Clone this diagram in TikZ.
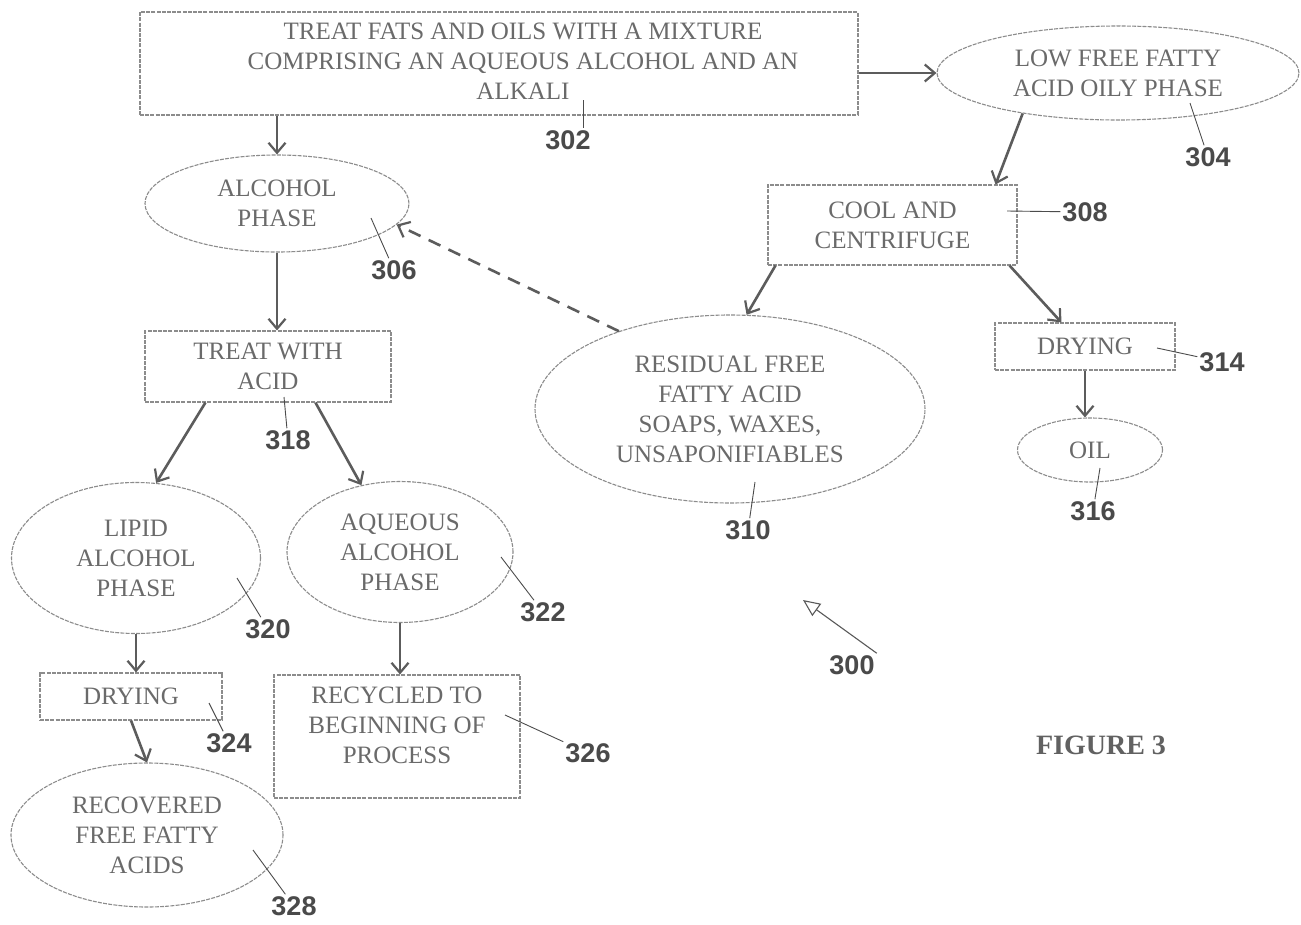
\documentclass[tikz,border=0pt]{standalone}
\usepackage{fontspec}
\setmainfont{Liberation Serif}
\newfontfamily\numfont{Liberation Sans}
\usetikzlibrary{shapes.geometric,arrows.meta,calc}
\definecolor{txtc}{HTML}{6A6A6A}
\definecolor{linec}{HTML}{8C8C8C}
\definecolor{arrc}{HTML}{5C5C5C}
\definecolor{numc}{HTML}{4A4A4A}
\begin{document}
\begin{tikzpicture}[x=1pt,y=-1pt,
  procbox/.style={rectangle,draw=linec,line width=1.1pt,dash pattern=on 4pt off 1.2pt,inner sep=0pt,
    font=\fontsize{25}{30}\selectfont,text=txtc,align=center},
  phase/.style={ellipse,draw=linec,line width=1.1pt,dash pattern=on 4pt off 1.2pt,inner sep=0pt,
    font=\fontsize{25}{30}\selectfont,text=txtc,align=center},
  flow/.style={draw=arrc,line width=2.6pt,-{Straight Barb[length=10pt,width=17pt,line width=2.2pt]}},
  back/.style={flow,dash pattern=on 13pt off 9pt},
  lead/.style={draw=black!70,line width=0.9pt},
  num/.style={font=\numfont\bfseries\fontsize{27}{29}\selectfont,text=numc,inner sep=2pt},
  pointer/.style={draw=black!65,line width=1.1pt,-{Triangle[open,length=17pt,width=15pt,line width=1.1pt]}}
]
\fill[white] (0,0) rectangle (1301,924);
\path[use as bounding box] (0,0) rectangle (1301,924);

% ---------- nodes ----------
\node[procbox,minimum width=718pt,minimum height=103pt] (b302) at (499,63.5)
  {\begin{tabular}{@{\hspace{48pt}}c@{}}TREAT FATS AND OILS WITH A MIXTURE\\
   COMPRISING AN AQUEOUS ALCOHOL AND AN\\ ALKALI\end{tabular}};
\node[phase,minimum width=362pt,minimum height=94pt] (e304) at (1118,73)
  {LOW FREE FATTY\\ ACID OILY PHASE};
\node[phase,minimum width=264pt,minimum height=97pt] (e306) at (277,203.5)
  {ALCOHOL\\ PHASE};
\node[procbox,minimum width=249pt,minimum height=80pt] (b308) at (892.5,225)
  {COOL AND\\ CENTRIFUGE};
\node[phase,minimum width=390pt,minimum height=188pt] (e310) at (730,409)
  {RESIDUAL FREE\\ FATTY ACID\\ SOAPS, WAXES,\\ UNSAPONIFIABLES};
\node[procbox,minimum width=180pt,minimum height=47pt] (b314) at (1085,346.5)
  {DRYING};
\node[phase,minimum width=145pt,minimum height=64pt] (e316) at (1090,450)
  {OIL};
\node[procbox,minimum width=246pt,minimum height=71pt] (b318) at (268,366.5)
  {TREAT WITH\\ ACID};
\node[phase,minimum width=249pt,minimum height=151pt] (e320) at (136,558)
  {LIPID\\ ALCOHOL\\ PHASE};
\node[phase,minimum width=226pt,minimum height=141pt] (e322) at (400,552)
  {AQUEOUS\\ ALCOHOL\\ PHASE};
\node[procbox,minimum width=182pt,minimum height=47pt] (b324) at (131,696.5)
  {DRYING};
\node[procbox,minimum width=246pt,minimum height=123pt] (b326) at (397,736.5)
  {\raisebox{9pt}[\height][\depth]{\begin{tabular}{@{}c@{}}RECYCLED TO\\ BEGINNING OF\\ PROCESS\end{tabular}}};
\node[phase,minimum width=272pt,minimum height=144pt] (e328) at (147,835)
  {RECOVERED\\ FREE FATTY\\ ACIDS};

% ---------- flow arrows ----------
\draw[flow] (b302.south -| e306.north) -- (e306.north);
\draw[flow] (b302.east |- e304.west) -- (e304.west);
\draw[flow] (e304.203) -- ($(b308.north east)+(-22,0)$);
\draw[flow] (e306.south) -- (e306.south |- b318.north);
\draw[flow] ($(b318.south west)+(61,0)$) -- (e320.75);
\draw[flow] ($(b318.south west)+(171,0)$) -- (e322.120);
\draw[flow] ($(b308.south west)+(8,0)$) -- (e310.80);
\draw[flow] ($(b308.south east)+(-8,0)$) -- ($(b314.north west)+(67,0)$);
\draw[flow] (b314.south) -- (b314.south |- e316.north);
\draw[flow] (e320.south) -- (e320.south |- b324.north);
\draw[flow] (b324.south) -- (e328.north);
\draw[flow] (e322.south) -- (e322.south |- b326.north);
\draw[back] (e310.145) -- (e306.350);

% ---------- reference numerals ----------
\node[num] (n302) at (568,140) {302};
\node[num] (n304) at (1208,157) {304};
\node[num] (n306) at (394,270) {306};
\node[num] (n308) at (1085,212) {308};
\node[num] (n310) at (748,530) {310};
\node[num] (n314) at (1222,362) {314};
\node[num] (n316) at (1093,511) {316};
\node[num] (n318) at (288,440) {318};
\node[num] (n320) at (268,629) {320};
\node[num] (n322) at (543,612) {322};
\node[num] (n324) at (229,743) {324};
\node[num] (n326) at (588,753) {326};
\node[num] (n328) at (294,906) {328};
\node[num] (n300) at (852,665) {300};

\coordinate (l302) at (583,100);
\coordinate (l304) at (1190,103);
\coordinate (l306) at (371,218);
\coordinate (l308) at (1007,211);
\coordinate (l310) at (755,482);
\coordinate (l314) at (1157,348);
\coordinate (l316) at (1100,468);
\coordinate (l318) at (284,397);
\coordinate (l320) at (237,578);
\coordinate (l322) at (501,557);
\coordinate (l324) at (209,703);
\coordinate (l326) at (505,715);
\coordinate (l328) at (253,850);
\coordinate (p300) at (803,600);

\draw[lead] (l302) -- (l302 |- n302.north);
\draw[lead] (l304) -- (n304);
\draw[lead] (l306) -- (n306);
\draw[lead] (l308) -- (n308);
\draw[lead] (l310) -- (n310);
\draw[lead] (l314) -- (n314);
\draw[lead] (l316) -- (n316);
\draw[lead] (l318) -- (n318);
\draw[lead] (l320) -- (n320);
\draw[lead] (l322) -- (n322);
\draw[lead] (l324) -- (n324);
\draw[lead] (l326) -- (n326);
\draw[lead] (l328) -- (n328);
\draw[pointer] (n300.north east) -- (p300);

\node[font=\bfseries\fontsize{28}{30}\selectfont,text=black!62] (fig) at (1101,745) {FIGURE 3};
\end{tikzpicture}
\end{document}
